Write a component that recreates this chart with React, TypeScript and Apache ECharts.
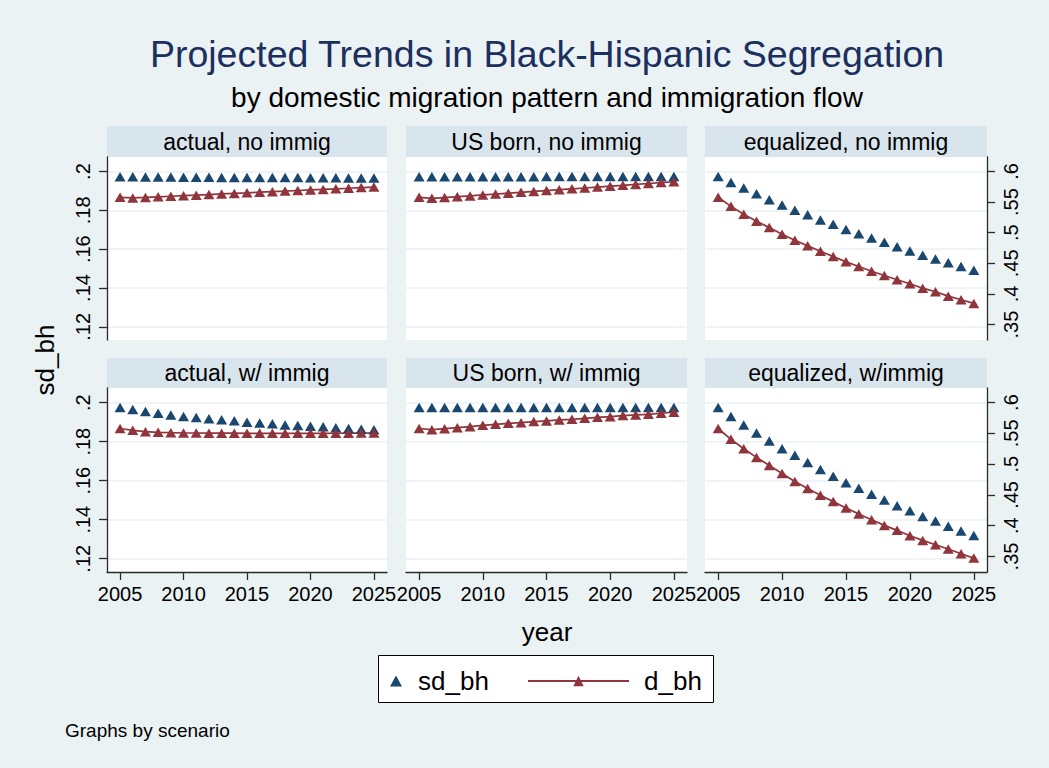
import React, { useEffect, useRef } from 'react';
import * as echarts from 'echarts';

// ---------------- data ----------------
const years = [2005, 2006, 2007, 2008, 2009, 2010, 2011, 2012, 2013, 2014, 2015, 2016, 2017, 2018, 2019, 2020, 2021, 2022, 2023, 2024, 2025];

const panelTitles = [
  'actual, no immig',
  'US born, no immig',
  'equalized, no immig',
  'actual, w/ immig',
  'US born, w/ immig',
  'equalized, w/immig',
];

const xTicks = [2005, 2010, 2015, 2020, 2025];
const sdTicks = [0.12, 0.14, 0.16, 0.18, 0.2];
const dTicks = [0.35, 0.4, 0.45, 0.5, 0.55, 0.6];

// sd_bh (left axis)
const sdActualNo = [0.1973, 0.1973, 0.1972, 0.1972, 0.1972, 0.1971, 0.1971, 0.1971, 0.197, 0.197, 0.197, 0.197, 0.1969, 0.1969, 0.1969, 0.1968, 0.1968, 0.1968, 0.1967, 0.1967, 0.1967];
const sdUSNo = [0.1973, 0.1973, 0.1973, 0.1973, 0.1973, 0.1973, 0.1973, 0.1973, 0.1973, 0.1973, 0.1974, 0.1974, 0.1974, 0.1974, 0.1974, 0.1974, 0.1974, 0.1974, 0.1974, 0.1974, 0.1974];
const sdEqNo = [0.1974, 0.1944, 0.1915, 0.1885, 0.1855, 0.1828, 0.1801, 0.1777, 0.175, 0.1728, 0.1702, 0.168, 0.1658, 0.1636, 0.1612, 0.1591, 0.1569, 0.155, 0.153, 0.1511, 0.1491];
const sdActualW = [0.1975, 0.1965, 0.1955, 0.1945, 0.1936, 0.1929, 0.1924, 0.1917, 0.1912, 0.1907, 0.19, 0.1895, 0.1892, 0.1886, 0.1883, 0.1879, 0.1876, 0.1871, 0.1867, 0.1864, 0.1861];
const sdUSW = [0.1975, 0.1975, 0.1975, 0.1975, 0.1975, 0.1975, 0.1975, 0.1975, 0.1975, 0.1975, 0.1975, 0.1975, 0.1975, 0.1975, 0.1975, 0.1975, 0.1975, 0.1975, 0.1975, 0.1975, 0.1975];
const sdEqW = [0.1975, 0.1929, 0.1886, 0.1845, 0.1804, 0.1764, 0.173, 0.1693, 0.1657, 0.1623, 0.159, 0.1561, 0.153, 0.1501, 0.1471, 0.1446, 0.1417, 0.1393, 0.1367, 0.1342, 0.1319];

// d_bh (right axis)
const dActualNo = [0.5578, 0.5567, 0.5576, 0.5586, 0.5595, 0.5604, 0.5613, 0.5623, 0.5633, 0.5642, 0.5651, 0.5661, 0.567, 0.5679, 0.5689, 0.5698, 0.5707, 0.5717, 0.5726, 0.5736, 0.5745];
const dUSNo = [0.5578, 0.5561, 0.5574, 0.5588, 0.5601, 0.5616, 0.563, 0.5645, 0.5659, 0.5674, 0.5688, 0.5702, 0.5716, 0.573, 0.5745, 0.576, 0.5774, 0.5789, 0.5803, 0.5818, 0.5832];
const dEqNo = [0.5578, 0.543, 0.53, 0.5186, 0.5083, 0.4974, 0.4876, 0.4785, 0.4697, 0.4611, 0.4524, 0.4448, 0.4371, 0.4301, 0.4231, 0.4166, 0.4094, 0.4036, 0.3964, 0.3906, 0.3845];
const dActualW = [0.5578, 0.5549, 0.5527, 0.5516, 0.551, 0.5505, 0.5505, 0.5503, 0.5502, 0.5502, 0.55, 0.55, 0.55, 0.55, 0.55, 0.55, 0.55, 0.5501, 0.5503, 0.5504, 0.5505];
const dUSW = [0.5578, 0.5559, 0.5575, 0.5592, 0.5608, 0.563, 0.5646, 0.5663, 0.5673, 0.569, 0.5701, 0.5717, 0.5728, 0.5744, 0.576, 0.5771, 0.5788, 0.5798, 0.5809, 0.5826, 0.5842];
const dEqW = [0.5578, 0.5402, 0.525, 0.5109, 0.4978, 0.4848, 0.4717, 0.4603, 0.4494, 0.4391, 0.4289, 0.4191, 0.4098, 0.4005, 0.3924, 0.3837, 0.3761, 0.3691, 0.3621, 0.3544, 0.3474];

const sdSeries = [sdActualNo, sdUSNo, sdEqNo, sdActualW, sdUSW, sdEqW];
const dSeries = [dActualNo, dUSNo, dEqNo, dActualW, dUSW, dEqW];

// ---------------- style / layout ----------------
const BG = '#EAF2F3';
const STRIP = '#D9E5EC';
const GRID_LINE = '#EAF2F3';
const NAVY = '#1A476F';
const MAROON = '#90353B';
const AXIS = '#2b2b2b';
const TITLE = '#1C2F5E';
const FONT = "'Liberation Sans', Arial, Helvetica, sans-serif";

const COL_LEFT = [107, 406, 705];
const COL_W = [280, 281, 282];
const ROW_TOP = [157, 388];
const ROW_H = [183, 184];
const STRIP_TOP = [126, 358];

const X_MIN = 2003.97;
const X_MAX = 2026.03;
const L_MIN = 0.1132;
const L_MAX = 0.2075;
const R_MIN = 0.3248;
const R_MAX = 0.6236;

const fmt = (v: number) => Number(v.toFixed(2)).toString().replace(/^0\./, '.');

export default function App() {
  const ref = useRef<HTMLDivElement>(null);

  useEffect(() => {
    if (!ref.current) return;
    const chart = echarts.init(ref.current, undefined, { renderer: 'svg' });

    const grids: any[] = [];
    const xAxes: any[] = [];
    const yAxes: any[] = [];
    const series: any[] = [];
    const graphics: any[] = [];

    for (let i = 0; i < 6; i++) {
      const r = Math.floor(i / 3);
      const c = i % 3;
      grids.push({
        left: COL_LEFT[c],
        top: ROW_TOP[r],
        width: COL_W[c],
        height: ROW_H[r],
        show: true,
        backgroundColor: '#ffffff',
        borderWidth: 0,
        containLabel: false,
      });
      xAxes.push({
        type: 'value',
        gridIndex: i,
        min: X_MIN,
        max: X_MAX,
        show: r === 1,
        axisLine: { show: true, onZero: false, lineStyle: { color: AXIS, width: 1.3 } },
        axisTick: { show: true, length: 8, customValues: xTicks, lineStyle: { color: AXIS, width: 1.3 } },
        axisLabel: {
          show: true,
          customValues: xTicks,
          margin: 12,
          fontSize: 20,
          fontFamily: FONT,
          color: '#000',
          formatter: (v: number) => String(Math.round(v)),
        },
        splitLine: { show: false },
      });
      yAxes.push({
        type: 'value',
        gridIndex: i,
        position: 'left',
        min: L_MIN,
        max: L_MAX,
        axisLine: { show: c === 0, onZero: false, lineStyle: { color: AXIS, width: 1.3 } },
        axisTick: { show: c === 0, length: 8, customValues: sdTicks, lineStyle: { color: AXIS, width: 1.3 } },
        axisLabel: {
          show: c === 0,
          customValues: sdTicks,
          rotate: 90,
          margin: 14,
          fontSize: 20,
          fontFamily: FONT,
          color: '#000',
          formatter: fmt,
        },
        splitLine: { show: true, lineStyle: { color: GRID_LINE, width: 1.6 } },
      });
      yAxes.push({
        type: 'value',
        gridIndex: i,
        position: 'right',
        min: R_MIN,
        max: R_MAX,
        axisLine: { show: c === 2, onZero: false, lineStyle: { color: AXIS, width: 1.3 } },
        axisTick: { show: c === 2, length: 8, customValues: dTicks, lineStyle: { color: AXIS, width: 1.3 } },
        axisLabel: {
          show: c === 2,
          customValues: dTicks,
          rotate: 90,
          margin: 14,
          fontSize: 20,
          fontFamily: FONT,
          color: '#000',
          formatter: fmt,
        },
        splitLine: { show: false },
      });
      series.push({
        type: 'scatter',
        name: 'sd_bh',
        xAxisIndex: i,
        yAxisIndex: 2 * i,
        data: years.map((y, k) => [y, sdSeries[i][k]]),
        symbol: 'triangle',
        symbolSize: [11, 9.5],
        itemStyle: { color: NAVY, opacity: 1 },
        z: 3,
      });
      series.push({
        type: 'line',
        name: 'd_bh',
        xAxisIndex: i,
        yAxisIndex: 2 * i + 1,
        data: years.map((y, k) => [y, dSeries[i][k]]),
        symbol: 'triangle',
        symbolSize: [11, 9.5],
        showSymbol: true,
        lineStyle: { color: MAROON, width: 1.7 },
        itemStyle: { color: MAROON, opacity: 1 },
        z: 3,
      });
      // strip header
      graphics.push({
        type: 'rect',
        shape: { x: COL_LEFT[c], y: STRIP_TOP[r], width: COL_W[c], height: ROW_TOP[r] - STRIP_TOP[r] },
        style: { fill: STRIP },
        silent: true,
      });
      graphics.push({
        type: 'text',
        x: COL_LEFT[c] + COL_W[c] / 2,
        y: (STRIP_TOP[r] + ROW_TOP[r]) / 2,
        style: {
          text: panelTitles[i],
          fontSize: 23,
          fontFamily: FONT,
          fill: '#000',
          align: 'center',
          verticalAlign: 'middle',
          textAlign: 'center',
          textVerticalAlign: 'middle',
        },
        silent: true,
      });
    }

    const centerX = (COL_LEFT[0] + COL_LEFT[2] + COL_W[2]) / 2;

    graphics.push(
      {
        type: 'text',
        x: centerX,
        y: 54,
        style: {
          text: 'Projected Trends in Black-Hispanic Segregation',
          fontSize: 37.5,
          fontFamily: FONT,
          fill: TITLE,
          align: 'center',
          verticalAlign: 'middle',
          textAlign: 'center',
          textVerticalAlign: 'middle',
        },
      },
      {
        type: 'text',
        x: centerX,
        y: 97,
        style: {
          text: 'by domestic migration pattern and immigration flow',
          fontSize: 28,
          fontFamily: FONT,
          fill: '#000',
          align: 'center',
          verticalAlign: 'middle',
          textAlign: 'center',
          textVerticalAlign: 'middle',
        },
      },
      {
        type: 'text',
        x: 45,
        y: 360,
        rotation: Math.PI / 2,
        style: {
          text: 'sd_bh',
          fontSize: 26,
          fontFamily: FONT,
          fill: '#000',
          align: 'center',
          verticalAlign: 'middle',
          textAlign: 'center',
          textVerticalAlign: 'middle',
        },
      },
      {
        type: 'text',
        x: centerX,
        y: 632,
        style: {
          text: 'year',
          fontSize: 26,
          fontFamily: FONT,
          fill: '#000',
          align: 'center',
          verticalAlign: 'middle',
          textAlign: 'center',
          textVerticalAlign: 'middle',
        },
      },
      {
        type: 'rect',
        shape: { x: 378.5, y: 655.5, width: 335, height: 47 },
        style: { fill: '#ffffff', stroke: '#000000', lineWidth: 1 },
        z: 0,
      },
      {
        type: 'text',
        x: 65,
        y: 730,
        style: {
          text: 'Graphs by scenario',
          fontSize: 19,
          fontFamily: FONT,
          fill: '#000',
          align: 'left',
          verticalAlign: 'middle',
          textAlign: 'left',
          textVerticalAlign: 'middle',
        },
      }
    );

    chart.setOption({
      animation: false,
      backgroundColor: BG,
      grid: grids,
      xAxis: xAxes,
      yAxis: yAxes,
      series,
      legend: [
        {
          data: ['sd_bh'],
          left: 390,
          top: 668,
          padding: 0,
          itemWidth: 12,
          itemHeight: 11,
          selectedMode: false,
          z: 10,
          textStyle: { fontSize: 26, fontFamily: FONT, color: '#000', padding: [0, 0, 0, 11] },
        },
        {
          data: ['d_bh'],
          left: 527,
          top: 668,
          padding: 0,
          itemWidth: 101,
          itemHeight: 13,
          selectedMode: false,
          z: 10,
          textStyle: { fontSize: 26, fontFamily: FONT, color: '#000', padding: [0, 0, 0, 10] },
        },
      ],
      graphic: { elements: graphics },
    });

    return () => {
      chart.dispose();
    };
  }, []);

  return <div ref={ref} style={{ position: 'absolute', left: 0, top: 0, width: 1049, height: 768 }} />;
}
